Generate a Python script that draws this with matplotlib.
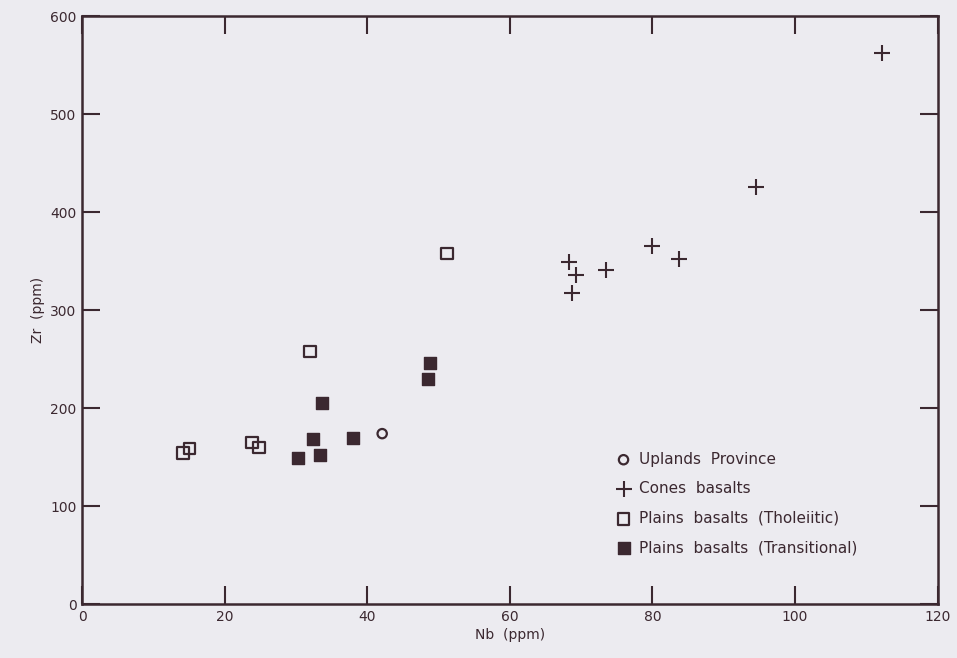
import numpy as np
import matplotlib.pyplot as plt

# Datos (Nb vs Zr, ppm)
uplands_nb = [42.1]
uplands_zr = [174]

cones_nb = [112.2, 94.5, 79.9, 83.7, 73.5, 68.3, 69.3, 68.7]
cones_zr = [563, 426, 366, 352, 341, 349, 336, 318]

thol_nb = [14.2, 15.1, 23.8, 24.8, 32.0, 51.2]
thol_zr = [154, 159, 165, 160, 258, 358]

trans_nb = [30.3, 32.4, 33.4, 33.7, 38.0, 48.5, 48.8]
trans_zr = [149, 169, 152, 205, 170, 230, 246]

xticks = [0, 20, 40, 60, 80, 100, 120]
yticks = [0, 100, 200, 300, 400, 500, 600]

ink = '#3b2830'
fondo = '#ecebf0'

plt.rcParams['font.family'] = 'DejaVu Sans'

fig = plt.figure(figsize=(9.57, 6.58), dpi=100, facecolor=fondo)
ax = fig.add_axes([0.0857, 0.082, 0.894, 0.893])
ax.set_facecolor(fondo)

ax.scatter(uplands_nb, uplands_zr, marker='o', s=45, facecolors='none',
           edgecolors=ink, linewidths=1.6, label='Uplands  Province')
ax.scatter(cones_nb, cones_zr, marker='+', s=120, color=ink, linewidths=1.5,
           label='Cones  basalts')
ax.scatter(thol_nb, thol_zr, marker='s', s=70, facecolors='none',
           edgecolors=ink, linewidths=1.6, label='Plains  basalts  (Tholeiitic)')
ax.scatter(trans_nb, trans_zr, marker='s', s=70, color=ink,
           label='Plains  basalts  (Transitional)')

ax.set_xlim(0, 120)
ax.set_ylim(0, 600)
ax.set_xticks(xticks)
ax.set_yticks(yticks)

ax.tick_params(direction='in', length=13, width=1.5, color=ink, labelcolor=ink,
               labelsize=10, top=True, right=True, pad=4)
for s in ax.spines.values():
    s.set_color(ink)
    s.set_linewidth(1.8)

ax.set_xlabel('Nb  (ppm)', color=ink, fontsize=10, labelpad=3)
ax.set_ylabel('Zr  (ppm)', color=ink, fontsize=10, labelpad=4)

leg = ax.legend(loc='lower left', bbox_to_anchor=(0.624, 0.083), frameon=False,
                fontsize=11, handletextpad=0.5, labelspacing=0.95,
                handlelength=1.0, borderpad=0, borderaxespad=0,
                labelcolor=ink)

plt.savefig('out.png', dpi=100, facecolor=fondo)
